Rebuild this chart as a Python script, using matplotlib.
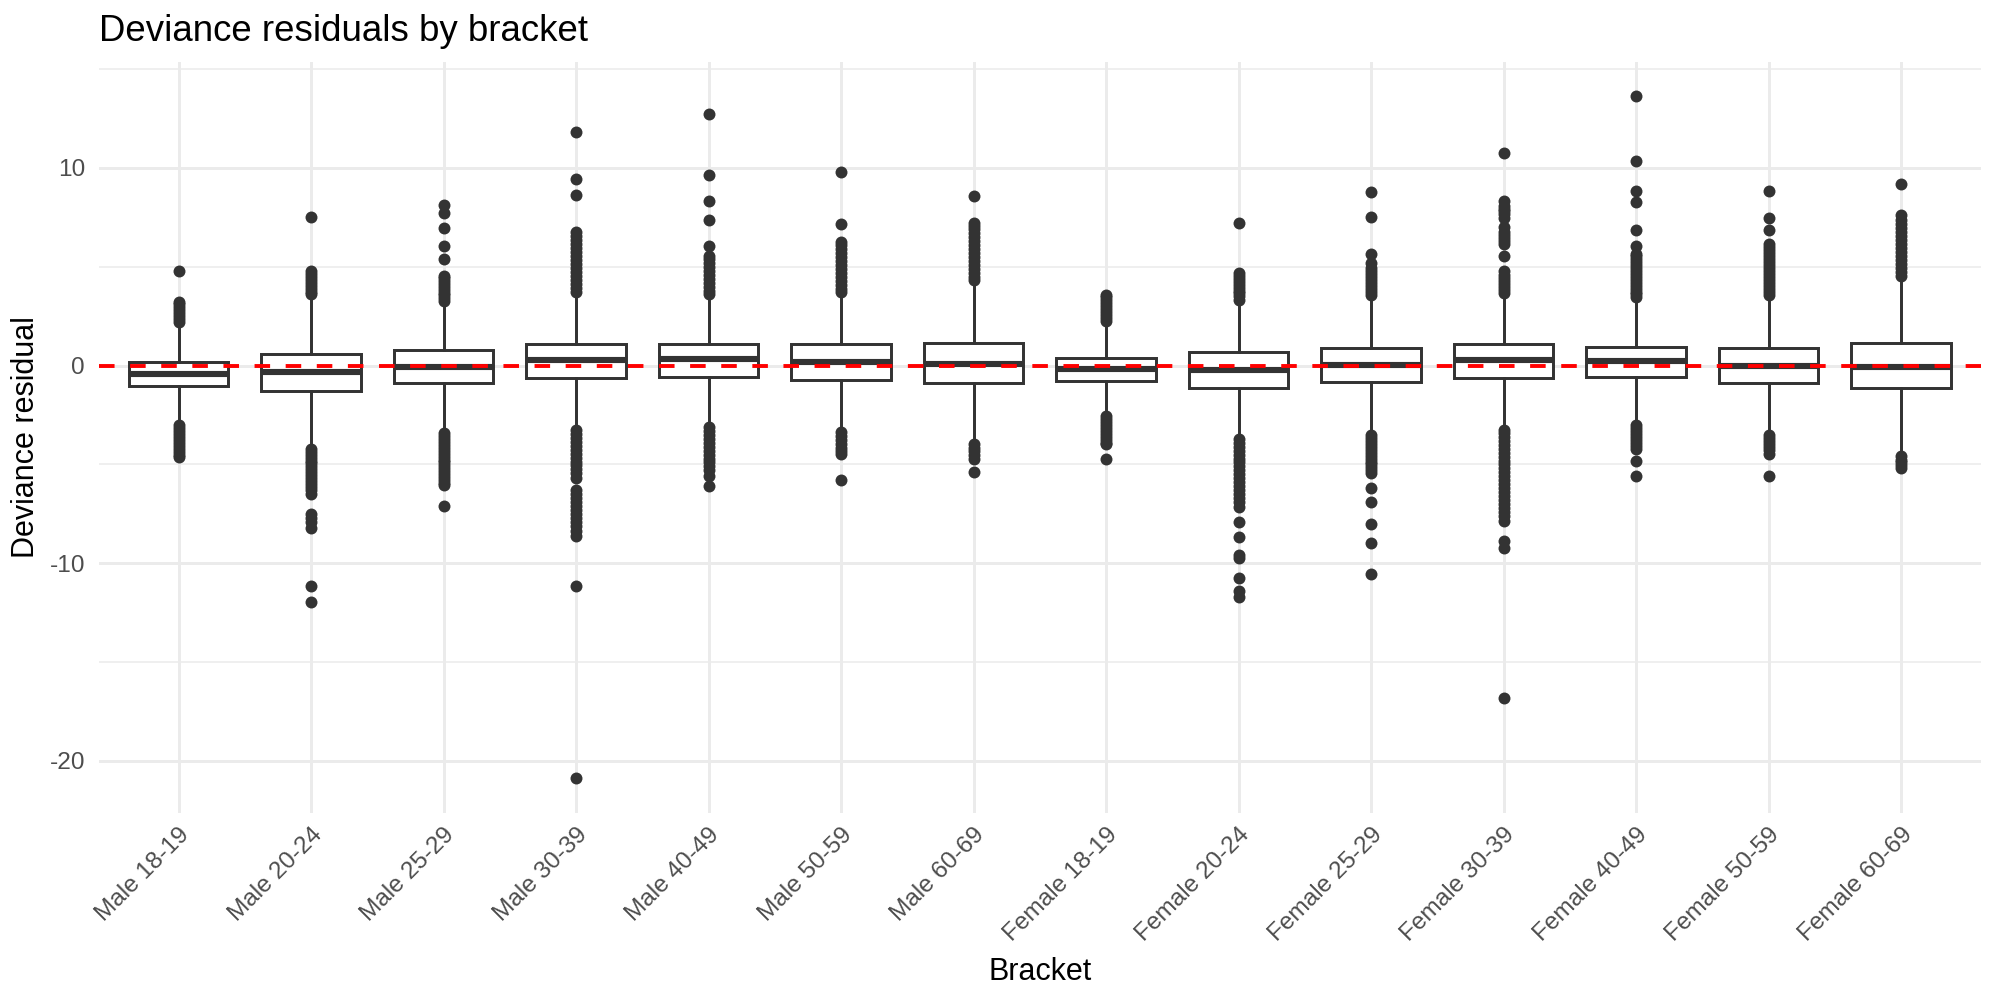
import matplotlib
matplotlib.use("Agg")
import matplotlib.pyplot as plt

plt.rcParams['font.family'] = ['Liberation Sans', 'DejaVu Sans']
plt.rcParams['axes.unicode_minus'] = False

brackets = ['Male 18-19', 'Male 20-24', 'Male 25-29', 'Male 30-39', 'Male 40-49',
            'Male 50-59', 'Male 60-69', 'Female 18-19', 'Female 20-24', 'Female 25-29',
            'Female 30-39', 'Female 40-49', 'Female 50-59', 'Female 60-69']

q1 = [-1.05, -1.29, -0.88, -0.63, -0.56, -0.71, -0.90, -0.76, -1.12, -0.85, -0.63, -0.56, -0.88, -1.15]
med = [-0.44, -0.32, -0.07, 0.29, 0.32, 0.17, 0.07, -0.15, -0.24, 0.02, 0.27, 0.24, 0.00, -0.07]
q3 = [0.20, 0.59, 0.78, 1.12, 1.12, 1.07, 1.17, 0.41, 0.68, 0.88, 1.07, 0.95, 0.88, 1.15]
whisker_lo = [-2.85, -4.05, -3.30, -3.15, -3.00, -3.25, -3.90, -2.45, -3.65, -3.35, -3.10, -2.90, -3.35, -4.50]
whisker_hi = [2.05, 3.40, 3.15, 3.65, 3.50, 3.60, 4.20, 2.15, 3.25, 3.45, 3.60, 3.30, 3.45, 4.45]

outliers = [
    # Male 18-19
    [2.2, 2.35, 2.5, 2.65, 2.8, 2.95, 3.1, 3.2, 4.8,
     -3.0, -3.15, -3.3, -3.45, -3.6, -3.75, -3.9, -4.05, -4.2, -4.35, -4.5, -4.6],
    # Male 20-24
    [3.6, 3.75, 3.9, 4.05, 4.2, 4.35, 4.5, 4.65, 4.8, 7.51,
     -4.2, -4.35, -4.5, -4.65, -4.8, -4.95, -5.1, -5.25, -5.4, -5.55, -5.7, -5.85, -6.0,
     -6.15, -6.3, -6.5, -7.5, -7.7, -7.9, -8.2, -11.15, -11.95],
    # Male 25-29
    [3.25, 3.4, 3.55, 3.7, 3.85, 4.0, 4.15, 4.3, 4.45, 4.56, 5.37, 6.05, 6.95, 7.73, 8.15,
     -3.4, -3.55, -3.7, -3.85, -4.0, -4.15, -4.3, -4.45, -4.6, -4.75, -4.9, -5.05, -5.2,
     -5.35, -5.5, -5.65, -5.8, -5.95, -6.05, -7.1],
    # Male 30-39
    [3.75, 3.95, 4.15, 4.35, 4.55, 4.75, 4.95, 5.15, 5.35, 5.55, 5.75, 5.95, 6.15, 6.35,
     6.55, 6.76, 8.61, 9.44, 11.83,
     -3.25, -3.45, -3.65, -3.85, -4.05, -4.25, -4.45, -4.65, -4.85, -5.05, -5.25, -5.45,
     -5.68, -6.3, -6.5, -6.7, -6.9, -7.1, -7.3, -7.5, -7.7, -7.9, -8.1, -8.35, -8.6,
     -11.17, -20.88],
    # Male 40-49
    [3.6, 3.8, 4.0, 4.2, 4.4, 4.6, 4.8, 5.0, 5.2, 5.4, 5.54, 6.05, 7.39, 8.32, 9.63, 12.73,
     -3.12, -3.3, -3.5, -3.7, -3.9, -4.1, -4.3, -4.5, -4.7, -4.9, -5.1, -5.3, -5.56, -6.1],
    # Male 50-59
    [3.71, 3.9, 4.1, 4.3, 4.5, 4.7, 4.9, 5.1, 5.3, 5.5, 5.7, 5.9, 6.1, 6.27, 7.17, 9.78,
     -3.37, -3.55, -3.75, -3.95, -4.15, -4.3, -4.46, -5.8],
    # Male 60-69
    [4.32, 4.5, 4.7, 4.9, 5.1, 5.3, 5.5, 5.7, 5.9, 6.1, 6.3, 6.5, 6.7, 6.9, 7.05, 7.24, 8.56,
     -3.98, -4.15, -4.3, -4.5, -4.7, -5.39],
    # Female 18-19
    [2.24, 2.4, 2.55, 2.7, 2.85, 3.0, 3.15, 3.3, 3.45, 3.59,
     -2.55, -2.7, -2.85, -3.0, -3.15, -3.3, -3.45, -3.6, -3.75, -3.9, -3.98, -4.7],
    # Female 20-24
    [3.34, 3.5, 3.65, 3.8, 3.95, 4.1, 4.25, 4.4, 4.55, 4.68, 7.2,
     -3.73, -3.9, -4.1, -4.3, -4.5, -4.7, -4.9, -5.1, -5.3, -5.5, -5.7, -5.9, -6.1, -6.3,
     -6.5, -6.7, -6.9, -7.15, -7.93, -8.66, -9.59, -9.75, -10.73, -11.41, -11.7],
    # Female 25-29
    [3.59, 3.75, 3.9, 4.05, 4.2, 4.35, 4.5, 4.65, 4.8, 4.95, 5.17, 5.66, 7.54, 8.78,
     -3.49, -3.65, -3.8, -3.95, -4.1, -4.25, -4.4, -4.55, -4.7, -4.85, -5.0, -5.15, -5.3,
     -5.44, -6.17, -6.9, -8.0, -8.98, -10.56],
    # Female 30-39
    [3.7, 3.85, 4.0, 4.15, 4.3, 4.45, 4.6, 4.8, 5.54, 6.15, 6.3, 6.45, 6.6, 6.75, 7.0,
     7.49, 7.65, 7.8, 7.95, 8.1, 8.32, 10.78,
     -3.24, -3.4, -3.6, -3.8, -4.0, -4.2, -4.4, -4.6, -4.8, -5.0, -5.2, -5.4, -5.6, -5.8,
     -6.0, -6.2, -6.4, -6.6, -6.8, -7.0, -7.2, -7.4, -7.6, -7.88, -8.85, -9.24, -16.83],
    # Female 40-49
    [3.46, 3.6, 3.75, 3.9, 4.05, 4.2, 4.35, 4.5, 4.65, 4.8, 4.95, 5.1, 5.25, 5.4, 5.54,
     5.66, 6.07, 6.85, 8.27, 8.83, 10.37, 13.66,
     -3.0, -3.15, -3.3, -3.45, -3.6, -3.75, -3.9, -4.05, -4.22, -4.83, -5.56],
    # Female 50-59
    [3.59, 3.75, 3.9, 4.05, 4.2, 4.35, 4.5, 4.65, 4.8, 4.95, 5.1, 5.25, 5.4, 5.55, 5.7,
     5.85, 6.0, 6.15, 6.88, 7.49, 8.83,
     -3.49, -3.65, -3.8, -3.95, -4.1, -4.25, -4.46, -5.59],
    # Female 60-69
    [4.56, 4.75, 4.95, 5.15, 5.35, 5.55, 5.75, 5.95, 6.15, 6.35, 6.55, 6.75, 6.95, 7.15,
     7.35, 7.61, 9.17,
     -4.59, -4.75, -4.9, -5.05, -5.2],
]

dark = '#333333'
grid_col = '#EBEBEB'
tick_col = '#4D4D4D'

stats = []
for i, name in enumerate(brackets):
    stats.append(dict(label=name, q1=q1[i], med=med[i], q3=q3[i],
                      whislo=whisker_lo[i], whishi=whisker_hi[i], fliers=outliers[i]))

fig = plt.figure(figsize=(10, 5), dpi=200)
ax = fig.add_axes([0.0495, 0.1875, 0.9408, 0.751])

positions = list(range(1, len(brackets) + 1))
ax.bxp(stats, positions=positions, widths=0.75, patch_artist=True, showcaps=False,
       boxprops=dict(facecolor='white', edgecolor=dark, linewidth=1.07),
       medianprops=dict(color=dark, linewidth=2.2, solid_capstyle='butt'),
       whiskerprops=dict(color=dark, linewidth=1.07),
       flierprops=dict(marker='o', markersize=4.3, markerfacecolor=dark,
                       markeredgecolor=dark, markeredgewidth=0),
       zorder=3)

ax.axhline(0, color='red', linewidth=1.4, linestyle=(0, (4, 4)), zorder=5)

all_vals = [v for lst in outliers for v in lst] + whisker_lo + whisker_hi
lo, hi = min(all_vals), max(all_vals)
pad = (hi - lo) * 0.05
ax.set_ylim(lo - pad, hi + pad)
ax.set_xlim(0.4, len(brackets) + 0.6)

ax.set_yticks([-20, -10, 0, 10])
ax.set_yticks([-15, -5, 5, 15], minor=True)
ax.set_xticks(positions)
ax.set_xticklabels(brackets, rotation=45, ha='right', va='top', rotation_mode='anchor')

ax.grid(True, which='major', color=grid_col, linewidth=1.07, zorder=0)
ax.grid(True, which='minor', axis='y', color=grid_col, linewidth=0.55, zorder=0)
ax.set_axisbelow(True)
for s in ax.spines.values():
    s.set_visible(False)
ax.tick_params(axis='both', which='both', length=0, labelsize=8.8, labelcolor=tick_col)
ax.tick_params(axis='x', pad=4)
ax.tick_params(axis='y', pad=5)

ax.set_xlabel('Bracket', fontsize=11, labelpad=4)
ax.set_ylabel('Deviance residual', fontsize=11, labelpad=3)
fig.text(0.0495, 0.959, 'Deviance residuals by bracket', fontsize=13.2, ha='left', va='baseline')

fig.savefig('out.png', dpi=200, facecolor='white')
